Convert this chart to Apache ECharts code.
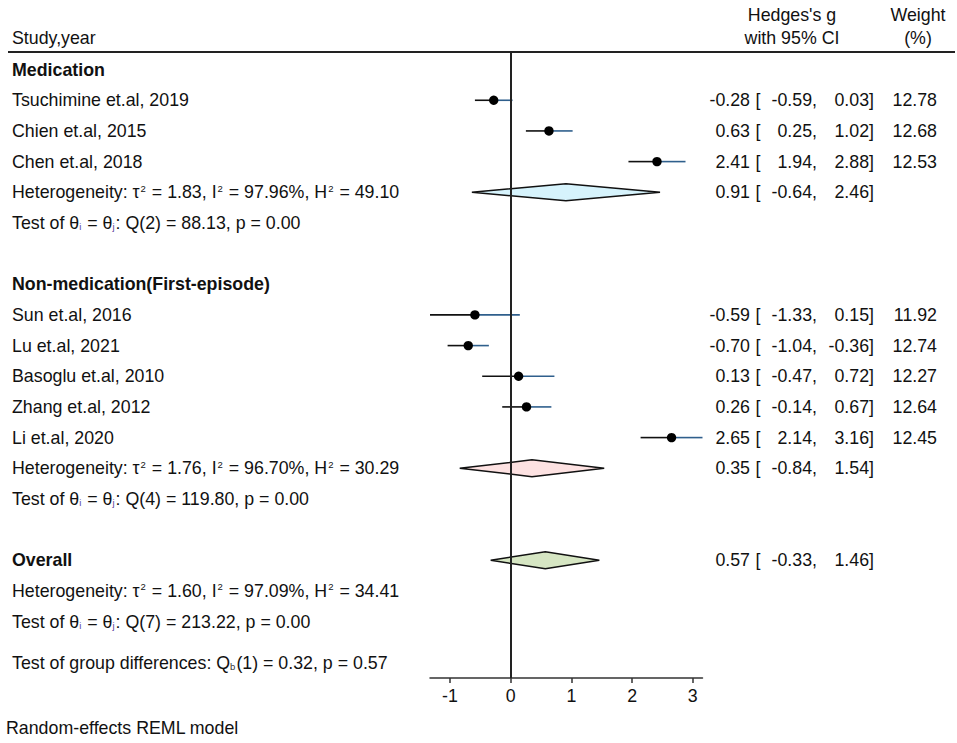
<!DOCTYPE html>
<html>
<head>
<meta charset="utf-8">
<script src="https://cdn.jsdelivr.net/npm/echarts@6/dist/echarts.min.js"></script>
<style>
  html, body { margin: 0; padding: 0; background: #fff; }
  #main { width: 957px; height: 743px; }
</style>
</head>
<body>
<div id="main"></div>
<script>
// study level results (Hedges's g with 95% CI, weight %)
const studies = ['Tsuchimine et.al, 2019', 'Chien et.al, 2015', 'Chen et.al, 2018',
  'Sun et.al, 2016', 'Lu et.al, 2021', 'Basoglu et.al, 2010', 'Zhang et.al, 2012', 'Li et.al, 2020'];
const studyRows = [1, 2, 3, 8, 9, 10, 11, 12];
const effect = [-0.28, 0.63, 2.41, -0.59, -0.70, 0.13, 0.26, 2.65];
const lower = [-0.59, 0.25, 1.94, -1.33, -1.04, -0.47, -0.14, 2.14];
const upper = [0.03, 1.02, 2.88, 0.15, -0.36, 0.72, 0.67, 3.16];
const weight = [12.78, 12.68, 12.53, 11.92, 12.74, 12.27, 12.64, 12.45];

// pooled results: two subgroups + overall
const groups = ['Medication', 'Non-medication(First-episode)', 'Overall'];
const groupLabelRows = [0, 7, 16];
const pooledRows = [4, 13, 16];
const hetRows = [4, 13, 17];
const testRows = [5, 14, 18];
const pooledEffect = [0.91, 0.35, 0.57];
const pooledLower = [-0.64, -0.84, -0.33];
const pooledUpper = [2.46, 1.54, 1.46];
const tau2 = [1.83, 1.76, 1.60];
const i2 = [97.96, 96.70, 97.09];
const h2 = [49.10, 30.29, 34.41];
const qDf = [2, 4, 7];
const qStat = [88.13, 119.80, 213.22];
const qP = [0.00, 0.00, 0.00];
const diamondColors = ['#d6f3fc', '#fde2e2', '#d6e6c3'];

// test of group differences
const groupTestRow = 19.34;
const qbDf = 1, qbStat = 0.32, qbP = 0.57;

const xTicks = [-1, 0, 1, 2, 3];

const fontFamily = "'Liberation Sans', Arial, Helvetica, sans-serif";
const fontSize = 17.8;
const rich = {
  sup: { fontSize: 9.5, verticalAlign: 'top', fontFamily: fontFamily, fill: '#111', padding: [0, 1, 0, 1] },
  sub: { fontSize: 9.5, verticalAlign: 'bottom', fontFamily: fontFamily, fill: '#5b3f9c', padding: [0, 1, 0, 0] },
  subb: { fontSize: 9.5, verticalAlign: 'bottom', fontFamily: fontFamily, fill: '#333', padding: [0, 1, 0, 0] }
};
const f2 = v => v.toFixed(2);

// text items, one per cell
const textItems = [];
function addText(row, x, text, align, bold) {
  textItems.push({ row: row, x: x, text: text, align: align || 'left', bold: !!bold });
}
function addEffectCols(row, est, lo, hi, w) {
  addText(row, 750, f2(est), 'right');
  addText(row, 755.5, '[', 'left');
  addText(row, 817, f2(lo) + ',', 'right');
  addText(row, 874, f2(hi) + ']', 'right');
  if (w !== undefined) addText(row, 937, f2(w), 'right');
}
studies.forEach((s, i) => {
  addText(studyRows[i], 12, s);
  addEffectCols(studyRows[i], effect[i], lower[i], upper[i], weight[i]);
});
groups.forEach((g, i) => {
  addText(groupLabelRows[i], 12, g, 'left', true);
  addText(hetRows[i], 12, 'Heterogeneity: τ{sup|2} = ' + f2(tau2[i]) + ', I{sup|2} = ' + f2(i2[i]) +
    '%, H{sup|2} = ' + f2(h2[i]));
  addText(testRows[i], 12, 'Test of θ{sub|i} = θ{sub|j}: Q(' + qDf[i] + ') = ' + f2(qStat[i]) + ', p = ' + f2(qP[i]));
  addEffectCols(pooledRows[i], pooledEffect[i], pooledLower[i], pooledUpper[i]);
});
addText(groupTestRow, 12, 'Test of group differences: Q{subb|b}(' + qbDf + ') = ' + f2(qbStat) + ', p = ' + f2(qbP));

const chart = echarts.init(document.getElementById('main'), null, { renderer: 'svg' });

const option = {
  backgroundColor: '#fff',
  animation: false,
  grid: { left: 430, right: 254.5, top: 52, bottom: 65, containLabel: false },
  xAxis: {
    type: 'value',
    min: -1.33,
    max: 3.16,
    splitLine: { show: false },
    axisLine: { show: true, onZero: false, lineStyle: { color: '#333', width: 1.5 } },
    axisTick: { show: true, customValues: xTicks, length: 5, lineStyle: { color: '#333', width: 1.5 } },
    axisLabel: { customValues: xTicks, color: '#111', fontSize: fontSize, fontFamily: fontFamily, margin: 9 }
  },
  yAxis: {
    type: 'value',
    inverse: true,
    min: -0.574,
    max: 19.84,
    show: false
  },
  graphic: [
    { type: 'line', shape: { x1: 8, y1: 52, x2: 955, y2: 52 }, style: { stroke: '#222', lineWidth: 2 }, z: 10 },
    { type: 'text', x: 12, y: 38, style: { text: 'Study,year', font: fontSize + 'px ' + fontFamily, fill: '#111', verticalAlign: 'middle' } },
    { type: 'text', x: 792, y: 15, style: { text: "Hedges's g", font: fontSize + 'px ' + fontFamily, fill: '#111', align: 'center', verticalAlign: 'middle' } },
    { type: 'text', x: 792, y: 38, style: { text: 'with 95% CI', font: fontSize + 'px ' + fontFamily, fill: '#111', align: 'center', verticalAlign: 'middle' } },
    { type: 'text', x: 918, y: 15, style: { text: 'Weight', font: fontSize + 'px ' + fontFamily, fill: '#111', align: 'center', verticalAlign: 'middle' } },
    { type: 'text', x: 918, y: 38, style: { text: '(%)', font: fontSize + 'px ' + fontFamily, fill: '#111', align: 'center', verticalAlign: 'middle' } },
    { type: 'text', x: 6, y: 728, style: { text: 'Random-effects REML model', font: fontSize + 'px ' + fontFamily, fill: '#111', verticalAlign: 'middle' } }
  ],
  series: [
    {
      // pooled diamonds
      type: 'custom',
      z: 2,
      data: pooledRows.map((r, i) => [r, pooledEffect[i], pooledLower[i], pooledUpper[i]]),
      encode: { x: [1, 2, 3], y: 0 },
      renderItem: function (params, api) {
        const row = api.value(0);
        const pe = api.coord([api.value(1), row]);
        const pl = api.coord([api.value(2), row]);
        const ph = api.coord([api.value(3), row]);
        const h = 8.4;
        return {
          type: 'polygon',
          shape: { points: [[pl[0], pl[1]], [pe[0], pe[1] - h], [ph[0], ph[1]], [pe[0], pe[1] + h]] },
          style: { fill: diamondColors[params.dataIndex], stroke: '#111', lineWidth: 1.5 }
        };
      }
    },
    {
      // study CIs and point estimates
      type: 'custom',
      z: 3,
      data: studyRows.map((r, i) => [r, effect[i], lower[i], upper[i]]),
      encode: { x: [1, 2, 3], y: 0 },
      renderItem: function (params, api) {
        const row = api.value(0);
        const pe = api.coord([api.value(1), row]);
        const pl = api.coord([api.value(2), row]);
        const ph = api.coord([api.value(3), row]);
        return {
          type: 'group',
          children: [
            { type: 'line', shape: { x1: pl[0], y1: pl[1], x2: pe[0], y2: pe[1] }, style: { stroke: '#111', lineWidth: 1.6 } },
            { type: 'line', shape: { x1: pe[0], y1: pe[1], x2: ph[0], y2: ph[1] }, style: { stroke: '#2f5f8c', lineWidth: 1.6 } },
            { type: 'circle', shape: { cx: pe[0], cy: pe[1], r: 4.7 }, style: { fill: '#000' } }
          ]
        };
      },
      markLine: {
        silent: true,
        symbol: 'none',
        label: { show: false },
        lineStyle: { color: '#222', width: 2, type: 'solid' },
        data: [{ xAxis: 0 }]
      }
    },
    {
      // table text
      type: 'custom',
      z: 4,
      clip: false,
      data: textItems.map(t => [0, t.row]),
      encode: { x: 0, y: 1 },
      renderItem: function (params, api) {
        const t = textItems[params.dataIndex];
        const y = api.coord([0, t.row])[1];
        return {
          type: 'text',
          style: {
            x: t.x,
            y: y,
            text: t.text,
            align: t.align,
            verticalAlign: 'middle',
            fontSize: fontSize,
            fontFamily: fontFamily,
            fontWeight: t.bold ? 'bold' : 'normal',
            fill: '#111',
            rich: rich
          }
        };
      }
    }
  ]
};
chart.setOption(option);
</script>
</body>
</html>
